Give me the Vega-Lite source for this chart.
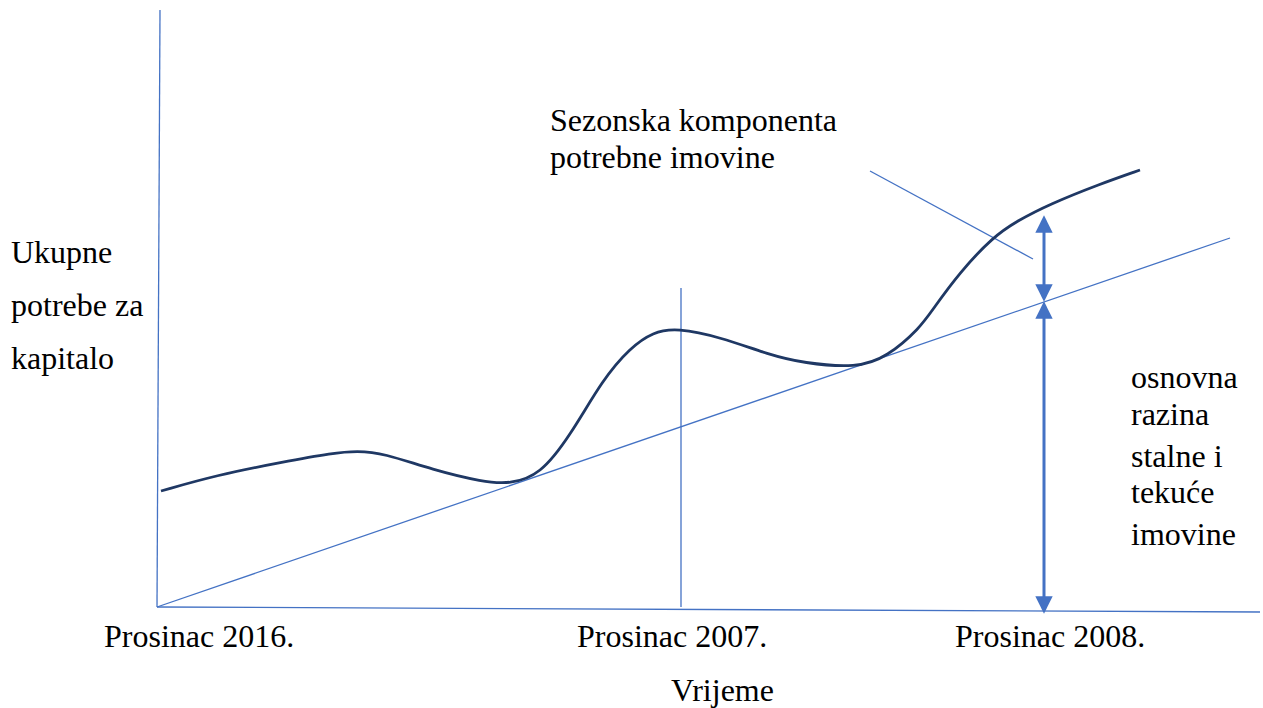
{
  "$schema": "https://vega.github.io/schema/vega-lite/v6.json",
  "width": 1263,
  "height": 708,
  "autosize": {"type": "fit", "contains": "padding"},
  "padding": 0,
  "background": "white",
  "config": {"view": {"stroke": null}},
  "datasets": {
    "lines": [
      {"x": 160, "y": 698, "x2": 157, "y2": 101},
      {"x": 157, "y": 101, "x2": 1260, "y2": 96},
      {"x": 157, "y": 101, "x2": 1230, "y2": 470},
      {"x": 681, "y": 420, "x2": 681, "y2": 101},
      {"x": 870, "y": 537, "x2": 1033, "y2": 449}
    ],
    "shafts": [
      {"x": 1044, "y": 480, "x2": 1044, "y2": 419},
      {"x": 1044, "y": 395, "x2": 1044, "y2": 107}
    ],
    "heads": [
      {"x": 1044, "y": 484, "dir": "up"},
      {"x": 1044, "y": 415, "dir": "down"},
      {"x": 1044, "y": 398, "dir": "up"},
      {"x": 1044, "y": 103, "dir": "down"}
    ],
    "curve": [
      {"x": 161, "y": 217},
      {"x": 217, "y": 233},
      {"x": 283, "y": 246},
      {"x": 333, "y": 255},
      {"x": 357, "y": 257},
      {"x": 383, "y": 255},
      {"x": 433, "y": 238},
      {"x": 483, "y": 226},
      {"x": 510, "y": 224},
      {"x": 540, "y": 233},
      {"x": 570, "y": 272},
      {"x": 603, "y": 329},
      {"x": 630, "y": 360},
      {"x": 653, "y": 376},
      {"x": 677, "y": 380},
      {"x": 720, "y": 371},
      {"x": 770, "y": 353},
      {"x": 803, "y": 345},
      {"x": 857, "y": 340},
      {"x": 887, "y": 351},
      {"x": 920, "y": 380},
      {"x": 933, "y": 399},
      {"x": 960, "y": 436},
      {"x": 993, "y": 471},
      {"x": 1017, "y": 487},
      {"x": 1050, "y": 504},
      {"x": 1100, "y": 524},
      {"x": 1140, "y": 538}
    ],
    "labels": [
      {"x": 550, "y": 577, "label": "Sezonska komponenta"},
      {"x": 550, "y": 540, "label": "potrebne imovine"},
      {"x": 11, "y": 445, "label": "Ukupne"},
      {"x": 11, "y": 392, "label": "potrebe za"},
      {"x": 11, "y": 339, "label": "kapitalo"},
      {"x": 1131, "y": 320, "label": "osnovna"},
      {"x": 1131, "y": 283, "label": "razina"},
      {"x": 1131, "y": 241, "label": "stalne i"},
      {"x": 1131, "y": 205, "label": "tekuće"},
      {"x": 1131, "y": 163, "label": "imovine"},
      {"x": 104, "y": 61, "label": "Prosinac 2016."},
      {"x": 577, "y": 61, "label": "Prosinac 2007."},
      {"x": 955, "y": 61, "label": "Prosinac 2008."},
      {"x": 671, "y": 7, "label": "Vrijeme"}
    ]
  },
  "encoding": {
    "x": {"field": "x", "type": "quantitative", "scale": {"domain": [0, 1263], "nice": false, "zero": false}, "axis": null},
    "y": {"field": "y", "type": "quantitative", "scale": {"domain": [0, 708], "nice": false, "zero": false}, "axis": null}
  },
  "layer": [
    {
      "data": {"name": "lines"},
      "mark": {"type": "rule", "color": "#4472c4", "strokeWidth": 1.3},
      "encoding": {"x2": {"field": "x2"}, "y2": {"field": "y2"}}
    },
    {
      "data": {"name": "curve"},
      "mark": {"type": "line", "color": "#1f3864", "strokeWidth": 2.8, "interpolate": "basis"},
      "encoding": {}
    },
    {
      "data": {"name": "shafts"},
      "mark": {"type": "rule", "color": "#4472c4", "strokeWidth": 3},
      "encoding": {"x2": {"field": "x2"}, "y2": {"field": "y2"}}
    },
    {
      "data": {"name": "heads"},
      "mark": {"type": "point", "filled": true, "color": "#4472c4", "opacity": 1, "size": 300, "strokeWidth": 0},
      "encoding": {
        "shape": {"field": "dir", "type": "nominal", "scale": {"domain": ["up", "down"], "range": ["M0,-1L1,1L-1,1Z", "M0,1L1,-1L-1,-1Z"]}, "legend": null}
      }
    },
    {
      "data": {"name": "labels"},
      "mark": {"type": "text", "align": "left", "baseline": "alphabetic", "font": "'Liberation Serif', 'Times New Roman', serif", "fontSize": 32, "color": "black"},
      "encoding": {"text": {"field": "label"}}
    }
  ]
}
